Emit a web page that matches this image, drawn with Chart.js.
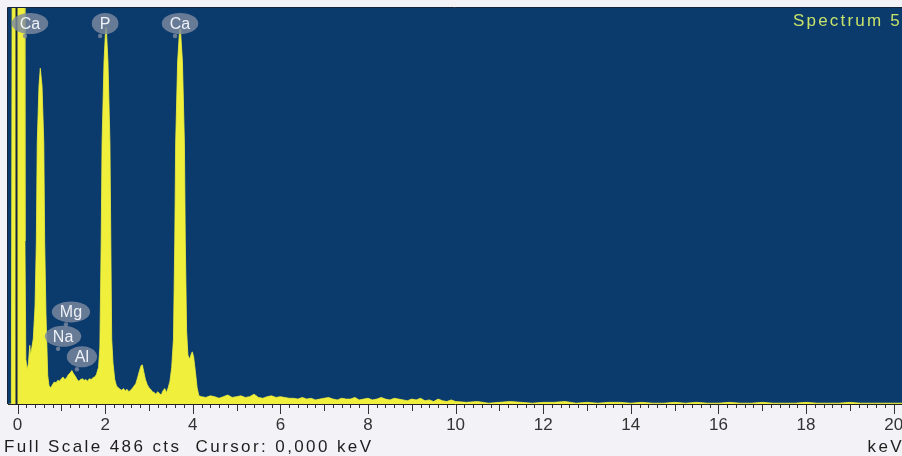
<!DOCTYPE html>
<html>
<head>
<meta charset="utf-8">
<script src="https://cdn.jsdelivr.net/npm/chart.js@4/dist/chart.umd.min.js"></script>
<style>
  html, body { margin: 0; padding: 0; background: #f3f3f7; }
  #wrap { width: 902px; height: 456px; }
</style>
</head>
<body>
<div id="wrap"><canvas id="spectre" width="902" height="456"></canvas></div>
<script>
const energies = [
  -0.20, -0.14, -0.12, 0.15, 0.17, 0.19, 0.22, 0.25, 0.28, 0.30, 0.33, 0.36, 0.40, 0.43, 0.45, 0.49, 0.52, 0.53, 0.56, 0.60, 0.62, 0.65, 0.69,
  0.72, 0.76, 0.80, 0.84, 0.88, 0.92, 0.96, 1.00, 1.04, 1.08, 1.12, 1.16, 1.20, 1.24, 1.28, 1.32, 1.36, 1.40, 1.44, 1.48, 1.52, 1.56, 1.60, 1.64, 1.68, 1.72, 1.76,
  1.80, 1.85, 1.88, 1.91, 1.93, 1.975, 2.01, 2.02, 2.03, 2.065, 2.11, 2.13, 2.15, 2.18, 2.22,
  2.26, 2.30, 2.34, 2.38, 2.42, 2.46, 2.50, 2.54, 2.58, 2.62, 2.66, 2.70, 2.74, 2.78, 2.82, 2.85, 2.88, 2.92, 2.96, 3.00, 3.04, 3.08, 3.12, 3.16, 3.20, 3.24, 3.28, 3.32, 3.36, 3.40, 3.44,
  3.48, 3.52, 3.56, 3.59, 3.61, 3.655, 3.695, 3.71, 3.725, 3.765, 3.81, 3.83, 3.86, 3.89, 3.93, 3.97, 3.99, 4.02, 4.06, 4.10, 4.14,
  4.2, 4.3, 4.4, 4.5, 4.6, 4.7, 4.8, 4.9, 5.0, 5.1, 5.2, 5.3, 5.4, 5.5, 5.6, 5.7, 5.8, 5.9, 6.0, 6.1, 6.2,
  6.3, 6.4, 6.5, 6.6, 6.7, 6.8, 6.9, 7.0, 7.1, 7.2, 7.3, 7.4, 7.5, 7.6, 7.7, 7.8, 7.9, 8.0, 8.1, 8.2, 8.3, 8.4, 8.5, 8.6, 8.7,
  8.8, 8.9, 9.0, 9.1, 9.2, 9.3, 9.4, 9.5, 9.6, 9.7, 9.8, 9.9, 10.0,
  10.25, 10.5, 10.75, 11.0, 11.25, 11.5, 11.75, 12.0, 12.25, 12.5, 12.75, 13.0, 13.25, 13.5, 13.75, 14.0, 14.25, 14.5, 14.75, 15.0,
  15.25, 15.5, 15.75, 16.0, 16.25, 16.5, 16.75, 17.0, 17.25, 17.5, 17.75, 18.0, 18.25, 18.5, 18.75, 19.0, 19.25, 19.5, 19.75, 20.0, 20.25
];
const coups = [
  0, 0, 600, 600, 200, 55, 42, 50, 72, 60, 70, 80, 120, 200, 320, 390, 412, 412, 390, 320, 200, 110, 35,
  22, 20, 24, 27, 26, 29, 28, 31, 33, 30, 32, 36, 38, 41, 37, 34, 30, 28, 30, 31, 29, 30, 28, 31, 30, 32, 33,
  36, 45, 70, 200, 320, 420, 458, 462, 458, 420, 320, 200, 80, 50, 30,
  22, 20, 18, 17, 19, 16, 18, 15, 17, 19, 22, 25, 32, 40, 47, 48, 40, 30, 24, 20, 18, 15, 14, 12, 15, 13, 11, 16, 19, 14, 20,
  28, 45, 80, 200, 320, 420, 455, 460, 455, 420, 320, 200, 90, 60, 55, 62, 64, 58, 40, 20, 10,
  9, 8, 10, 9, 7, 9, 11, 8, 9, 10, 8, 9, 12, 8, 7, 9, 10, 8, 9, 8, 7,
  7, 6, 8, 6, 7, 5, 6, 7, 8, 6, 5, 7, 6, 6, 8, 5, 6, 7, 5, 6, 8, 6, 5, 7, 6,
  5, 4, 6, 5, 7, 4, 5, 3, 6, 4, 3, 5, 3,
  2, 3, 1, 2, 3, 2, 1, 2, 2, 3, 1, 2, 1, 2, 2, 1, 2, 1, 1, 2,
  1, 2, 1, 1, 2, 1, 1, 2, 1, 1, 1, 2, 1, 1, 1, 2, 1, 1, 1, 1, 1
];
const graduations = [0, 2, 4, 6, 8, 10, 12, 14, 16, 18, 20];

// étiquettes des éléments
const elements = ['Ca', 'P', 'Ca', 'Mg', 'Na', 'Al'];
const elementsKeV = [0.285, 2.0, 3.71, 1.22, 1.04, 1.47];
const elementsCoups = [467, 467, 467, 113, 83, 58];

const pleineEchelle = 486;
const nomSpectre = 'Spectrum 5';
const pied = 'Full Scale 486 cts  Cursor: 0,000 keV';

const cadre = {
  id: 'cadre',
  beforeDraw(chart) {
    const { ctx, chartArea: a } = chart;
    ctx.save();
    ctx.fillStyle = '#f3f3f7';
    ctx.fillRect(0, 0, chart.width, chart.height);
    ctx.fillStyle = '#0b3a6c';
    ctx.fillRect(a.left, a.top, a.right - a.left, a.bottom - a.top);
    ctx.restore();
  },
  afterDatasetsDraw(chart) {
    const { ctx, chartArea: a, scales } = chart;
    ctx.save();
    // curseur
    const cx = scales.x.getPixelForValue(0);
    ctx.strokeStyle = '#13233f';
    ctx.lineWidth = 2;
    ctx.beginPath();
    ctx.moveTo(cx - 1, a.top);
    ctx.lineTo(cx - 1, a.bottom);
    ctx.stroke();
    // bord
    ctx.strokeStyle = '#16243a';
    ctx.lineWidth = 1;
    ctx.beginPath();
    ctx.moveTo(a.left - 0.5, a.bottom);
    ctx.lineTo(a.left - 0.5, a.top - 0.5);
    ctx.lineTo(a.right, a.top - 0.5);
    ctx.stroke();
    ctx.restore();
  },
  afterDraw(chart) {
    const { ctx, chartArea: a, scales } = chart;
    const x = scales.x, y = scales.y;
    ctx.save();
    // graduations
    ctx.strokeStyle = '#333';
    ctx.lineWidth = 1;
    for (let k = 0; k <= 100; k++) {
      const px = Math.round(x.getPixelForValue(k * 0.2)) + 0.5;
      const len = k % 10 === 0 ? 9 : (k % 5 === 0 ? 6 : 3);
      ctx.beginPath();
      ctx.moveTo(px, a.bottom + 1);
      ctx.lineTo(px, a.bottom + 1 + len);
      ctx.stroke();
    }
    // bulles des éléments
    ctx.font = '16px "Liberation Sans", Arial, sans-serif';
    ctx.textAlign = 'center';
    ctx.textBaseline = 'middle';
    elements.forEach((nom, i) => {
      const bx = x.getPixelForValue(elementsKeV[i]);
      const by = y.getPixelForValue(elementsCoups[i]);
      const w = ctx.measureText(nom).width;
      ctx.fillStyle = 'rgba(125,138,160,0.82)';
      ctx.beginPath();
      ctx.ellipse(bx, by, w / 2 + 8, 10.5, 0, 0, Math.PI * 2);
      ctx.fill();
      ctx.beginPath();
      ctx.arc(bx - 5, by + 12.5, 2.2, 0, Math.PI * 2);
      ctx.fill();
      ctx.fillStyle = '#eef1f6';
      ctx.fillText(nom, bx, by + 1);
    });
    // nom du spectre
    ctx.textAlign = 'left';
    ctx.textBaseline = 'alphabetic';
    ctx.font = '17px "Liberation Sans", Arial, sans-serif';
    ctx.letterSpacing = '2.2px';
    ctx.fillStyle = '#c6e26a';
    ctx.fillText(nomSpectre, 793, 26);
    // pied
    ctx.font = '17px "Liberation Sans", Arial, sans-serif';
    ctx.letterSpacing = '2.4px';
    ctx.fillStyle = '#1e1e1e';
    ctx.fillText(pied, 4, 452);
    ctx.textAlign = 'right';
    ctx.fillText('keV', 904, 452);
    ctx.restore();
  }
};

const ctx = document.getElementById('spectre').getContext('2d');
new Chart(ctx, {
  type: 'line',
  data: {
    datasets: [{
      data: energies.map((e, i) => ({ x: e, y: coups[i] })),
      borderColor: '#f0f03c',
      backgroundColor: '#f0f03c',
      borderWidth: 0.8,
      pointRadius: 0,
      tension: 0,
      fill: 'origin'
    }]
  },
  options: {
    responsive: false,
    animation: false,
    layout: { padding: { left: 8, top: 8, right: 0, bottom: 0 } },
    plugins: { legend: { display: false }, tooltip: { enabled: false } },
    scales: {
      x: {
        type: 'linear',
        min: -0.217,
        max: 20.19,
        afterBuildTicks: (scale) => { scale.ticks = graduations.map(v => ({ value: v })); },
        afterFit: (scale) => { scale.height = 52; scale.paddingLeft = 0; scale.paddingRight = 0; },
        grid: { display: false, drawTicks: false },
        border: { display: true, color: '#222', width: 1 },
        ticks: {
          autoSkip: false,
          maxRotation: 0,
          padding: 11,
          color: '#333',
          font: { family: '"Liberation Sans", Arial, sans-serif', size: 17 }
        }
      },
      y: { display: false, min: 0, max: pleineEchelle }
    }
  },
  plugins: [cadre]
});
</script>
</body>
</html>
